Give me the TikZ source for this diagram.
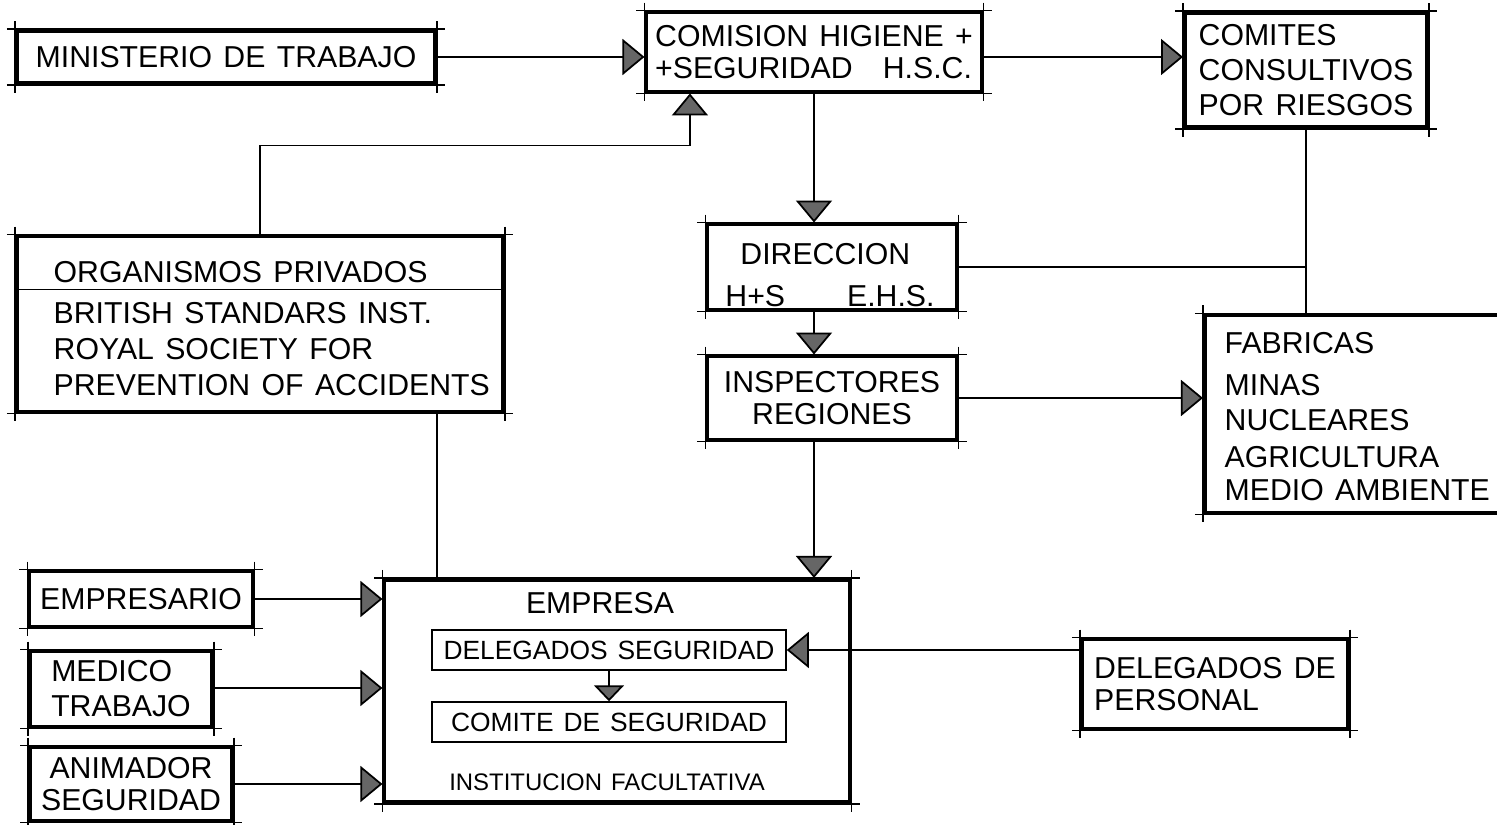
\documentclass[tikz,border=0pt]{standalone}
\usepackage{fontspec}
\setmainfont{Liberation Sans}[WordSpace=1.35]
\usetikzlibrary{arrows.meta}

\tikzset{
	caja/.style={draw, line width=1.1pt, inner sep=0pt, align=center, font=\fontsize{8.6}{9}\selectfont, marcas},
	marcas/.style={append after command={
		([xshift=-0.8mm]\tikzlastnode.north west) edge[line width=0.4pt] ([xshift=0.8mm]\tikzlastnode.north east)
		([xshift=-0.8mm]\tikzlastnode.south west) edge[line width=0.4pt] ([xshift=0.8mm]\tikzlastnode.south east)
		([yshift=0.8mm]\tikzlastnode.north west) edge[line width=0.4pt] ([yshift=-0.8mm]\tikzlastnode.south west)
		([yshift=0.8mm]\tikzlastnode.north east) edge[line width=0.4pt] ([yshift=-0.8mm]\tikzlastnode.south east)}},
	cajita/.style={draw, line width=0.4pt, inner sep=0pt, font=\fontsize{7.5}{9}\selectfont},
	texto/.style={inner sep=0pt, font=\fontsize{8.6}{9}\selectfont},
	flecha/.style={-{Triangle[length=2.2mm,width=3.6mm,fill=black!60]}, line width=0.5pt},
	flechita/.style={-{Triangle[length=1.6mm,width=3mm,fill=black!60]}, line width=0.5pt}
}

\begin{document}
\begin{tikzpicture}[x=0.01cm, y=-0.01cm]
	\useasboundingbox (0,0) rectangle (1497,825);

	% arriba
	\node[caja, minimum width=4.18cm, minimum height=0.52cm] (ministerio) at (226,57) {MINISTERIO DE TRABAJO};
	\node[caja, align=left, minimum width=3.35cm, minimum height=0.79cm] (comision) at (814,52) {COMISION HIGIENE +\\+SEGURIDAD\quad H.S.C.};
	\node[caja, align=left, minimum width=2.42cm, minimum height=1.14cm] (comites) at (1306,70) {COMITES\\[1pt]CONSULTIVOS\\[1pt]POR RIESGOS};

	% organismos privados
	\node[caja, minimum width=4.86cm, minimum height=1.75cm] (organismos) at (260,324) {};
	\draw[line width=0.4pt] (organismos.north west) ++(0,55) -- ++(486,0);
	\node[texto, anchor=west] (orgtitulo) at (53,272) {ORGANISMOS PRIVADOS};
	\node[texto, anchor=west, align=left] (orgtexto) at (53,349) {BRITISH STANDARS INST.\\[1.2pt]ROYAL SOCIETY FOR\\[1.2pt]PREVENTION OF ACCIDENTS};

	% centro
	\node[caja, minimum width=2.49cm, minimum height=0.85cm] (direccion) at (832,267) {};
	\node[texto, align=left] (dirtexto) at (830,275) {\hspace{1.5mm}DIRECCION\\[3pt]H+S\hspace{6.2mm}E.H.S.};
	\node[caja, minimum width=2.49cm, minimum height=0.83cm] (inspectores) at (832,398) {INSPECTORES\\REGIONES};

	% fabricas
	\node[caja, minimum width=3.00cm, minimum height=1.97cm] (fabricas) at (1355,414) {};
	\foreach \y/\t [count=\i] in {343/FABRICAS, 385/MINAS, 420/NUCLEARES, 457/AGRICULTURA, 490/MEDIO AMBIENTE}
		\node[texto, anchor=west] (fab\i) at (1224,\y) {\t};

	% empresa
	\node[caja, minimum width=4.65cm, minimum height=2.22cm] (empresa) at (617,691) {};
	\node[texto] (emptitulo) at (600,603) {EMPRESA};
	\node[cajita, minimum width=3.54cm, minimum height=0.40cm] (delseg) at (609,650) {DELEGADOS SEGURIDAD};
	\node[cajita, minimum width=3.54cm, minimum height=0.40cm] (comseg) at (609,722) {COMITE DE SEGURIDAD};
	\node[texto, font=\fontsize{6.8}{8}\selectfont] (institucion) at (607,782) {INSTITUCION FACULTATIVA};

	% izquierda y derecha abajo
	\node[caja, minimum width=2.23cm, minimum height=0.55cm] (empresario) at (141,599) {EMPRESARIO};
	\node[caja, align=left, minimum width=1.82cm, minimum height=0.75cm] (medico) at (121,689) {MEDICO\\[1pt]TRABAJO};
	\node[caja, minimum width=2.02cm, minimum height=0.73cm] (animador) at (131,784) {ANIMADOR\\SEGURIDAD};
	\node[caja, align=left, minimum width=2.66cm, minimum height=0.89cm] (delpers) at (1215,684) {DELEGADOS DE\\PERSONAL};

	% conexiones
	\coordinate (bajada) at ([xshift=-6.8mm]organismos.south east);
	\draw[flecha] (ministerio.east) -- (ministerio.east -| comision.west);
	\draw[flecha] (comision.east |- ministerio.east) -- (comites.west |- ministerio.east);
	\draw[flecha] (organismos.north) -- ++(0,-89) -| ([xshift=-12.4mm]comision.south);
	\draw[flecha] (comision.south) -- (direccion.north -| comision.south);
	\draw[flecha] (direccion.south -| comision.south) -- (inspectores.north -| comision.south);
	\draw[flecha] (inspectores.south -| comision.south) -- (empresa.north -| comision.south);
	\draw (comites.south) -- (fabricas.north -| comites.south);
	\draw (direccion.east) -- (direccion.east -| comites.south);
	\draw[flecha] (inspectores.east) -- (inspectores.east -| fabricas.west);
	\draw (bajada) -- (bajada |- empresa.north);
	\draw[flecha] (empresario.east) -- (empresario.east -| empresa.west);
	\draw[flecha] (medico.east |- 0,688) -- (empresa.west |- 0,688);
	\draw[flecha] (animador.east) -- (animador.east -| empresa.west);
	\draw[flecha] (delpers.west |- delseg.east) -- (delseg.east);
	\draw[flechita] (delseg.south) -- (comseg.north);
\end{tikzpicture}
\end{document}
